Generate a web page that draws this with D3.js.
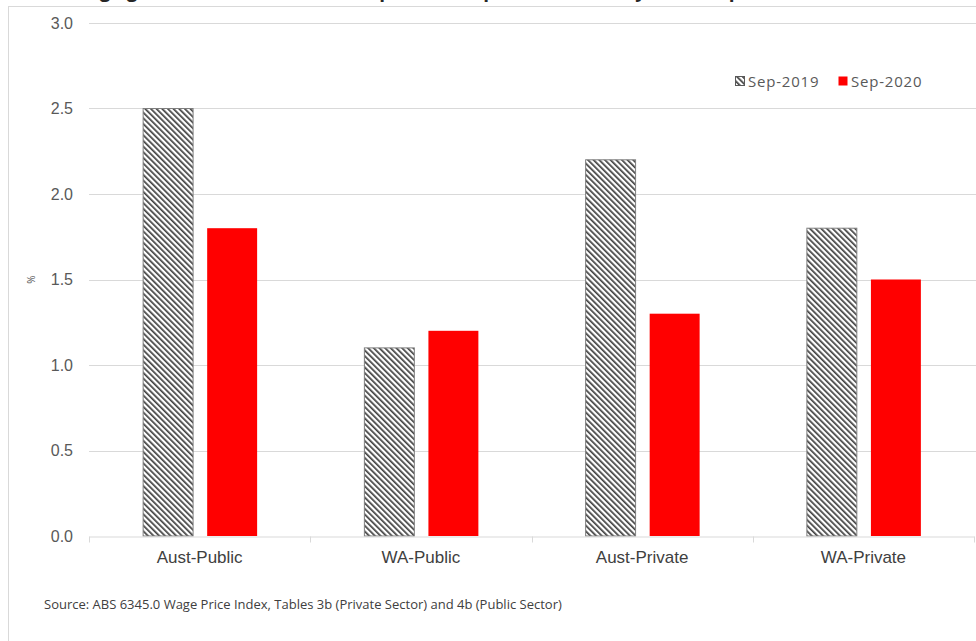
<!DOCTYPE html>
<html>
<head>
<meta charset="utf-8">
<script src="https://cdn.jsdelivr.net/npm/d3@7"></script>
<style>
  body { margin: 0; background: #fff; }
  svg { font-family: "Open Sans", "Noto Sans", sans-serif; }
</style>
</head>
<body>
<div id="chart"></div>
<script>
// data
const categories = ["Aust-Public", "WA-Public", "Aust-Private", "WA-Private"];
const seriesNames = ["Sep-2019", "Sep-2020"];
const sep2019 = [2.5, 1.1, 2.2, 1.8];
const sep2020 = [1.8, 1.2, 1.3, 1.5];
const yTicks = [0, 0.5, 1.0, 1.5, 2.0, 2.5, 3.0];
const sourceText = "Source: ABS 6345.0  Wage Price Index, Tables 3b (Private Sector) and 4b (Public Sector)";
const titleText = "Wage growth, Australia and WA, public and private sectors, year to September";

const rows = categories.map((c, i) => ({ cat: c, values: [
    { key: seriesNames[0], value: sep2019[i] },
    { key: seriesNames[1], value: sep2020[i] }
]}));

const W = 976, H = 641;
const svg = d3.select("#chart").append("svg")
    .attr("width", W)
    .attr("height", H);

// hatch pattern for the 2019 bars
const defs = svg.append("defs");
const pat = defs.append("pattern")
    .attr("id", "hatch")
    .attr("patternUnits", "userSpaceOnUse")
    .attr("width", 4)
    .attr("height", 4)
    .attr("patternTransform", "rotate(-45)");
pat.append("rect").attr("width", 4).attr("height", 4).attr("fill", "#fff");
pat.append("rect").attr("x", 0).attr("width", 1.7).attr("height", 4).attr("fill", "#404040");

// chart frame (cut at right/bottom like the screenshot)
svg.append("rect")
    .attr("x", 8.5).attr("y", 6.5)
    .attr("width", W + 20).attr("height", H + 20)
    .attr("fill", "none")
    .attr("stroke", "#d9d9d9");

// title, mostly cut off above the picture (only descenders show)
svg.append("text")
    .attr("x", 70).attr("y", -3)
    .attr("font-size", 19)
    .attr("font-weight", "bold")
    .attr("fill", "#262626")
    .text(titleText);

const plotLeft = 89, plotRight = 974, plotTop = 23, plotBottom = 536;

const y = d3.scaleLinear().domain([0, 3]).range([plotBottom, plotTop]);
const x0 = d3.scaleBand().domain(categories).range([plotLeft, plotRight]).paddingInner(0);
const groupW = 114;
const x1 = d3.scaleBand().domain(seriesNames).range([0, groupW]).paddingInner(0.22);

// gridlines
svg.append("g")
    .selectAll("line")
    .data(yTicks.filter(d => d > 0))
    .join("line")
    .attr("x1", plotLeft).attr("x2", W)
    .attr("y1", d => Math.round(y(d)) + 0.5)
    .attr("y2", d => Math.round(y(d)) + 0.5)
    .attr("stroke", "#d9d9d9");

// y axis labels
const yAxis = d3.axisLeft(y).tickValues(yTicks).tickFormat(d3.format(".1f")).tickSize(0).tickPadding(16);
const yg = svg.append("g")
    .attr("transform", "translate(" + plotLeft + ",0)")
    .call(yAxis);
yg.select(".domain").remove();
yg.selectAll("text")
    .attr("font-size", 16)
    .attr("font-family", null)
    .attr("fill", "#595959");

svg.append("text")
    .attr("transform", "translate(35," + y(1.5) + ") rotate(-90)")
    .attr("text-anchor", "middle")
    .attr("font-size", 10)
    .attr("fill", "#595959")
    .text("%");

// bars
const groups = svg.append("g")
    .selectAll("g")
    .data(rows)
    .join("g")
    .attr("transform", d => "translate(" + (x0(d.cat) + (x0.bandwidth() - groupW) / 2) + ",0)");

groups.selectAll("rect")
    .data(d => d.values)
    .join("rect")
    .attr("x", d => x1(d.key) + 0.5)
    .attr("y", d => y(d.value))
    .attr("width", x1.bandwidth())
    .attr("height", d => y(0) - y(d.value))
    .attr("fill", d => d.key === seriesNames[0] ? "url(#hatch)" : "#ff0000")
    .attr("stroke", d => d.key === seriesNames[0] ? "#7f7f7f" : "none");

// x axis
const xAxis = d3.axisBottom(x0).tickSize(0).tickPadding(14);
const xg = svg.append("g")
    .attr("transform", "translate(0," + (Math.round(plotBottom) + 0.5) + ")")
    .call(xAxis);
xg.select(".domain").attr("stroke", "#d9d9d9");
xg.selectAll("text")
    .attr("font-size", 17)
    .attr("font-family", null)
    .attr("fill", "#404040");
// separator ticks between categories
xg.append("g")
    .selectAll("line")
    .data(categories.map(c => x0(c)).concat([x0.range()[1]]))
    .join("line")
    .attr("x1", d => Math.round(d) + 0.5).attr("x2", d => Math.round(d) + 0.5)
    .attr("y1", 0).attr("y2", 6)
    .attr("stroke", "#d9d9d9");

// legend
const legend = svg.append("g").attr("transform", "translate(735,76)");
const legendItems = legend.selectAll("g")
    .data(seriesNames)
    .join("g")
    .attr("transform", (d, i) => "translate(" + (i * 103) + ",0)");
legendItems.append("rect")
    .attr("x", 0.5).attr("y", 0.5)
    .attr("width", 9).attr("height", 9)
    .attr("fill", (d, i) => i === 0 ? "url(#hatch)" : "#ff0000")
    .attr("stroke", (d, i) => i === 0 ? "#595959" : "none");
legendItems.append("text")
    .attr("x", 13).attr("y", 10.5)
    .attr("font-size", 15)
    .attr("letter-spacing", 0.8)
    .attr("fill", "#595959")
    .text(d => d);

// source note
svg.append("text")
    .attr("x", 44).attr("y", 609)
    .attr("font-size", 13)
    .attr("fill", "#404040")
    .text(sourceText);
</script>
</body>
</html>
